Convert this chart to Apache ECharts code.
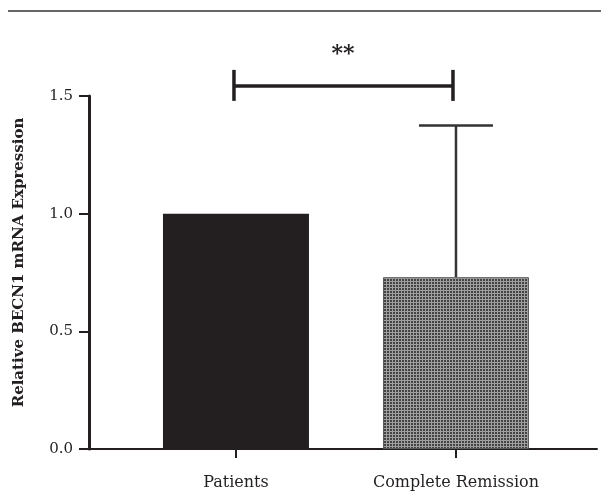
<!DOCTYPE html>
<html>
<head>
<meta charset="utf-8">
<script src="https://cdn.jsdelivr.net/npm/echarts@6/dist/echarts.min.js"></script>
<style>
  html, body { margin: 0; padding: 0; background: #fff; }
  #chart { width: 601px; height: 493px; }
</style>
</head>
<body>
<div id="chart"></div>
<script>
  // data
  var categories = ['Patients', 'Complete Remission']
  var means = [1.0, 0.73]
  var upperErr = [null, 1.375]
  var yTicks = [0, 0.5, 1.0, 1.5]
  var sigLabel = '**'
  var sigPair = [0, 1]
  var sigLevel = 1.543

  var ink = '#231f20'
  var serif = '"DejaVu Serif", "Liberation Serif", serif'

  // little dotted tile for the second bar
  var tile = document.createElement('canvas')
  tile.width = 3
  tile.height = 3
  var tctx = tile.getContext('2d')
  tctx.fillStyle = '#a0a0a0'
  tctx.fillRect(0, 0, 3, 3)
  tctx.fillStyle = '#444444'
  tctx.fillRect(0, 0, 2, 2)

  var chart = echarts.init(document.getElementById('chart'))

  var barData = means.map(function (v, i) {
    return {
      value: [i, v],
      itemStyle: i === 0
        ? { color: ink }
        : { color: { image: tile, repeat: 'repeat' }, borderColor: '#5a5a5a', borderWidth: 1 }
    }
  })

  var errData = []
  upperErr.forEach(function (v, i) {
    if (v != null) errData.push([i, means[i], v])
  })

  chart.setOption({
    animation: false,
    grid: { left: 89, right: 4, top: 96, bottom: 44 },
    graphic: [{
      type: 'line',
      shape: { x1: 8, y1: 11, x2: 601, y2: 11 },
      style: { stroke: '#333', lineWidth: 1.5 }
    }],
    xAxis: {
      type: 'value',
      min: -0.668,
      max: 1.641,
      splitLine: { show: false },
      axisLine: { show: true, onZero: false, lineStyle: { color: ink, width: 2 } },
      axisTick: { show: true, customValues: [0, 1], length: 9, lineStyle: { color: ink, width: 2 } },
      axisLabel: {
        customValues: [0, 1],
        formatter: function (v) { return categories[Math.round(v)] },
        color: ink,
        fontFamily: serif,
        fontSize: 16,
        margin: 26
      }
    },
    yAxis: {
      type: 'value',
      min: 0,
      max: 1.5,
      interval: 0.5,
      name: 'Relative BECN1 mRNA Expression',
      nameLocation: 'middle',
      nameGap: 62,
      nameTextStyle: { color: ink, fontFamily: serif, fontSize: 15, fontWeight: 'bold', padding: [0, 0, 0, 20] },
      splitLine: { show: false },
      axisLine: { show: true, onZero: false, lineStyle: { color: ink, width: 3 } },
      axisTick: { show: true, length: 10, lineStyle: { color: ink, width: 2 } },
      axisLabel: {
        color: ink,
        fontFamily: serif,
        fontSize: 15,
        margin: 16,
        formatter: function (v) { return v.toFixed(1) }
      }
    },
    series: [{
      type: 'bar',
      barWidth: 146,
      data: barData
    }, {
      type: 'custom',
      z: 1,
      data: errData,
      renderItem: function (params, api) {
        var base = api.coord([api.value(0), api.value(1)])
        var top = api.coord([api.value(0), api.value(2)])
        var st = { stroke: '#333', lineWidth: 2.5 }
        return {
          type: 'group',
          children: [
            { type: 'line', shape: { x1: base[0], y1: base[1], x2: top[0], y2: top[1] }, style: st },
            { type: 'line', shape: { x1: top[0] - 37, y1: top[1], x2: top[0] + 37, y2: top[1] }, style: st }
          ]
        }
      }
    }, {
      type: 'custom',
      clip: false,
      data: [[sigPair[0], sigPair[1], sigLevel]],
      renderItem: function (params, api) {
        var a = api.coord([api.value(0), api.value(2)])
        var b = api.coord([api.value(1), api.value(2)])
        var st = { stroke: ink, lineWidth: 3.5 }
        return {
          type: 'group',
          children: [
            { type: 'line', shape: { x1: a[0] - 2, y1: a[1], x2: b[0] - 3, y2: b[1] }, style: st },
            { type: 'line', shape: { x1: a[0] - 2, y1: a[1] - 16, x2: a[0] - 2, y2: a[1] + 15 }, style: st },
            { type: 'line', shape: { x1: b[0] - 3, y1: b[1] - 16, x2: b[0] - 3, y2: b[1] + 15 }, style: st },
            {
              type: 'text',
              style: {
                text: sigLabel,
                x: (a[0] + b[0]) / 2 - 3,
                y: a[1] - 32,
                align: 'center',
                verticalAlign: 'middle',
                fill: ink,
                font: 'bold 22px ' + serif
              }
            }
          ]
        }
      }
    }]
  })
</script>
</body>
</html>
